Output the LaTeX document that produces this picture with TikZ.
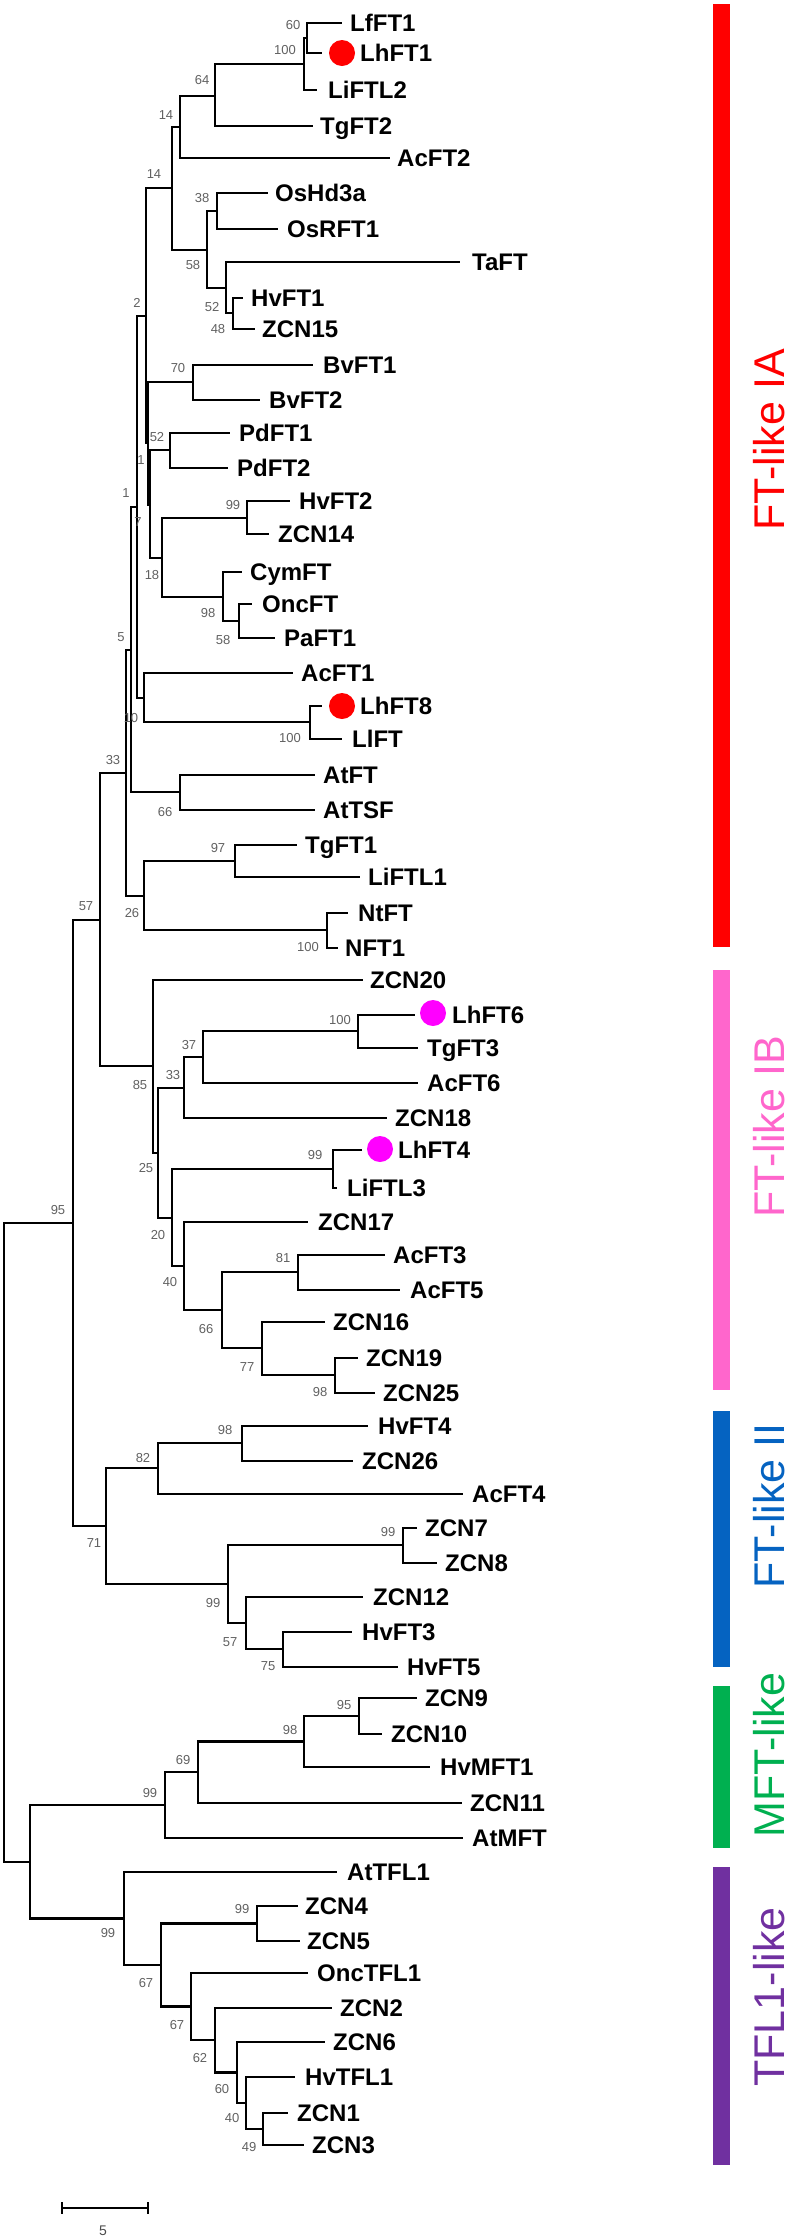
\documentclass[tikz,border=0pt]{standalone}
\usepackage{fontspec}
\setmainfont{Liberation Sans}
\definecolor{cIA}{HTML}{FF0000}
\definecolor{cIB}{HTML}{FF66CC}
\definecolor{cII}{HTML}{0563C1}
\definecolor{cMF}{HTML}{00B050}
\definecolor{cTF}{HTML}{7030A0}
\definecolor{cDotB}{HTML}{FF00FF}
\newcommand\leafnode[5]{\coordinate (#1) at (#2,#3);\node[lab] (t#1) at (#4,#3+8.5) {#5};}
\begin{document}
\begin{tikzpicture}[x=1pt,y=-1pt,
  br/.style={line width=2.8pt, line join=miter},
  lab/.style={anchor=base west, inner sep=0pt, font=\bfseries\fontsize{24}{24}\selectfont},
  bs/.style={inner sep=0pt, text=black!62, font=\fontsize{13}{13}\selectfont},
  clade/.style={rotate=90, inner sep=0pt, font=\fontsize{43}{43}\selectfont},
  dot/.style={circle, minimum size=26pt, inner sep=0pt, draw=none}]
\fill[white] (0,0) rectangle (792,2239);
\useasboundingbox (0,0) rectangle (792,2239);

% ---------- leaves ----------
\leafnode{LfFT1}{342}{23}{350}{LfFT1}
\leafnode{LhFT1}{322}{53}{360}{LhFT1}
\leafnode{LiFTL2}{317}{90}{328}{LiFTL2}
\leafnode{TgFT2}{313}{126}{320}{TgFT2}
\leafnode{AcFT2}{390}{158}{397}{AcFT2}
\leafnode{OsHd3a}{268}{193}{275}{OsHd3a}
\leafnode{OsRFT1}{278}{229}{287}{OsRFT1}
\leafnode{TaFT}{460}{262}{472}{TaFT}
\leafnode{HvFT1}{243}{298}{251}{HvFT1}
\leafnode{ZCN15}{255}{329}{262}{ZCN15}
\leafnode{BvFT1}{313}{365}{323}{BvFT1}
\leafnode{BvFT2}{260}{400}{269}{BvFT2}
\leafnode{PdFT1}{230}{433}{239}{PdFT1}
\leafnode{PdFT2}{228}{468}{237}{PdFT2}
\leafnode{HvFT2}{290}{501}{299}{HvFT2}
\leafnode{ZCN14}{269}{534}{278}{ZCN14}
\leafnode{CymFT}{242}{572}{250}{CymFT}
\leafnode{OncFT}{252}{604}{262}{OncFT}
\leafnode{PaFT1}{275}{638}{284}{PaFT1}
\leafnode{AcFT1}{293}{673}{301}{AcFT1}
\leafnode{LhFT8}{322}{706}{360}{LhFT8}
\leafnode{LlFT}{342}{739}{352}{LlFT}
\leafnode{AtFT}{315}{775}{323}{AtFT}
\leafnode{AtTSF}{315}{810}{323}{AtTSF}
\leafnode{TgFT1}{297}{845}{305}{TgFT1}
\leafnode{LiFTL1}{360}{877}{368}{LiFTL1}
\leafnode{NtFT}{348}{913}{358}{NtFT}
\leafnode{NFT1}{338}{948}{345}{NFT1}
\leafnode{ZCN20}{363}{980}{370}{ZCN20}
\leafnode{LhFT6}{415}{1015}{452}{LhFT6}
\leafnode{TgFT3}{418}{1048}{427}{TgFT3}
\leafnode{AcFT6}{418}{1083}{427}{AcFT6}
\leafnode{ZCN18}{387}{1118}{395}{ZCN18}
\leafnode{LhFT4}{362}{1150}{398}{LhFT4}
\leafnode{LiFTL3}{337}{1188}{347}{LiFTL3}
\leafnode{ZCN17}{308}{1222}{318}{ZCN17}
\leafnode{AcFT3}{385}{1255}{393}{AcFT3}
\leafnode{AcFT5}{400}{1290}{410}{AcFT5}
\leafnode{ZCN16}{325}{1322}{333}{ZCN16}
\leafnode{ZCN19}{358}{1358}{366}{ZCN19}
\leafnode{ZCN25}{375}{1393}{383}{ZCN25}
\leafnode{HvFT4}{368}{1426}{378}{HvFT4}
\leafnode{ZCN26}{353}{1461}{362}{ZCN26}
\leafnode{AcFT4}{463}{1494}{472}{AcFT4}
\leafnode{ZCN7}{417}{1528}{425}{ZCN7}
\leafnode{ZCN8}{437}{1563}{445}{ZCN8}
\leafnode{ZCN12}{363}{1597}{373}{ZCN12}
\leafnode{HvFT3}{352}{1632}{362}{HvFT3}
\leafnode{HvFT5}{398}{1667}{407}{HvFT5}
\leafnode{ZCN9}{417}{1698}{425}{ZCN9}
\leafnode{ZCN10}{382}{1734}{391}{ZCN10}
\leafnode{HvMFT1}{430}{1767}{440}{HvMFT1}
\leafnode{ZCN11}{462}{1803}{470}{ZCN11}
\leafnode{AtMFT}{463}{1838}{472}{AtMFT}
\leafnode{AtTFL1}{337}{1872}{347}{AtTFL1}
\leafnode{ZCN4}{298}{1906}{305}{ZCN4}
\leafnode{ZCN5}{300}{1941}{307}{ZCN5}
\leafnode{OncTFL1}{308}{1973}{317}{OncTFL1}
\leafnode{ZCN2}{332}{2008}{340}{ZCN2}
\leafnode{ZCN6}{325}{2042}{333}{ZCN6}
\leafnode{HvTFL1}{295}{2077}{305}{HvTFL1}
\leafnode{ZCN1}{288}{2113}{297}{ZCN1}
\leafnode{ZCN3}{304}{2145}{312}{ZCN3}

% ---------- internal nodes ----------
\coordinate (a60) at (307,38);
\coordinate (a100) at (304,64);
\coordinate (a64) at (215,96);
\coordinate (a14u) at (180,127);
\coordinate (a38) at (217,211);
\coordinate (a48) at (233,313);
\coordinate (a52) at (226,288);
\coordinate (a58) at (207,250);
\coordinate (a14l) at (172,188);
\coordinate (a70) at (193,382);
\coordinate (a52b) at (170,450);
\coordinate (a99) at (247,518);
\coordinate (a58b) at (239,621);
\coordinate (a98) at (223,597);
\coordinate (a18) at (162,558);
\coordinate (a7) at (150,505);
\coordinate (a1u) at (148,443);
\coordinate (a2) at (146,316);
\coordinate (a100b) at (310,722);
\coordinate (a10) at (144,698);
\coordinate (a1l) at (137,507);
\coordinate (a66) at (180,792);
\coordinate (a5) at (131,650);
\coordinate (a97) at (235,861);
\coordinate (a100c) at (327,930);
\coordinate (a26) at (144,896);
\coordinate (a33) at (126,773);
\coordinate (b100) at (358,1031);
\coordinate (b37) at (203,1057);
\coordinate (b33) at (184,1088);
\coordinate (b99) at (333,1169);
\coordinate (b81) at (298,1272);
\coordinate (b98) at (335,1375);
\coordinate (b77) at (262,1348);
\coordinate (b66) at (222,1310);
\coordinate (b40) at (184,1266);
\coordinate (b20) at (172,1218);
\coordinate (b25) at (158,1153);
\coordinate (b85) at (153,1066);
\coordinate (a57) at (100,920);
\coordinate (c98) at (242,1443);
\coordinate (c82) at (158,1468);
\coordinate (c99a) at (403,1545);
\coordinate (c75) at (283,1649);
\coordinate (c57) at (246,1623);
\coordinate (c99b) at (228,1584);
\coordinate (c71) at (106,1526);
\coordinate (r95) at (73,1223);
\coordinate (d95) at (359,1716);
\coordinate (d98) at (304,1741.5);
\coordinate (d69) at (198,1772);
\coordinate (d99) at (165,1805);
\coordinate (e49) at (263,2129);
\coordinate (e40) at (246,2103);
\coordinate (e60) at (237,2072.5);
\coordinate (e62) at (215,2040);
\coordinate (e67a) at (191,2006.5);
\coordinate (e99) at (257,1923.5);
\coordinate (e67b) at (161,1965);
\coordinate (e99b) at (124,1918.5);
\coordinate (f) at (30,1862);
\coordinate (root) at (4,1542.5);

% ---------- branches ----------
\foreach \p/\c in {a60/LfFT1, a60/LhFT1, a100/a60, a100/LiFTL2, a64/a100, a64/TgFT2, a14u/a64, a14u/AcFT2,
  a38/OsHd3a, a38/OsRFT1, a48/HvFT1, a48/ZCN15, a52/TaFT, a52/a48, a58/a38, a58/a52, a14l/a14u, a14l/a58,
  a70/BvFT1, a70/BvFT2, a52b/PdFT1, a52b/PdFT2, a99/HvFT2, a99/ZCN14, a58b/OncFT, a58b/PaFT1, a98/CymFT,
  a98/a58b, a18/a99, a18/a98, a7/a52b, a7/a18, a1u/a70, a1u/a7, a2/a14l, a2/a1u, a100b/LhFT8, a100b/LlFT,
  a10/AcFT1, a10/a100b, a1l/a2, a1l/a10, a66/AtFT, a66/AtTSF, a5/a1l, a5/a66, a97/TgFT1, a97/LiFTL1,
  a100c/NtFT, a100c/NFT1, a26/a97, a26/a100c, a33/a5, a33/a26,
  b100/LhFT6, b100/TgFT3, b37/b100, b37/AcFT6, b33/b37, b33/ZCN18, b99/LhFT4, b99/LiFTL3, b81/AcFT3,
  b81/AcFT5, b98/ZCN19, b98/ZCN25, b77/ZCN16, b77/b98, b66/b81, b66/b77, b40/ZCN17, b40/b66, b20/b99,
  b20/b40, b25/b33, b25/b20, b85/ZCN20, b85/b25, a57/a33, a57/b85,
  c98/HvFT4, c98/ZCN26, c82/c98, c82/AcFT4, c99a/ZCN7, c99a/ZCN8, c75/HvFT3, c75/HvFT5, c57/ZCN12,
  c57/c75, c99b/c99a, c99b/c57, c71/c82, c71/c99b, r95/a57, r95/c71,
  d95/ZCN9, d95/ZCN10, d98/d95, d98/HvMFT1, d69/d98, d69/ZCN11, d99/d69, d99/AtMFT,
  e49/ZCN1, e49/ZCN3, e40/HvTFL1, e40/e49, e60/ZCN6, e60/e40, e62/ZCN2, e62/e60, e67a/OncTFL1, e67a/e62,
  e99/ZCN4, e99/ZCN5, e67b/e99, e67b/e67a, e99b/AtTFL1, e99b/e67b, f/d99, f/e99b, root/r95, root/f}
  \draw[br] (\p) |- (\c);

% ---------- bootstrap values ----------
\foreach \t/\x/\y [count=\i] in {60/293/25, 100/285/50, 64/202/80, 14/166/115, 14/154/174, 38/202/198,
  58/193/265, 52/212/307, 48/218/329, 2/137/303, 70/178/368, 52/157/437, 1/141/460, 1/126/493,
  99/233/505, 7/138/522, 18/152/575, 98/208/613, 58/223/640, 5/121/637, 10/131/718, 100/290/738,
  33/113/760, 66/165/812, 97/218/848, 26/132/913, 100/308/947, 57/86/906, 100/340/1020, 37/189/1045,
  33/173/1075, 85/140/1085, 99/315/1155, 25/146/1168, 20/158/1235, 81/283/1258, 40/170/1282,
  66/206/1329, 77/247/1367, 98/320/1392, 95/58/1210, 98/225/1430, 82/143/1458, 99/388/1532,
  71/94/1543, 99/213/1603, 57/230/1642, 75/268/1666, 95/344/1705, 98/290/1730, 69/183/1760,
  99/150/1793, 99/242/1909, 67/146/1983, 99/108/1933, 67/177/2025, 62/200/2058, 60/222/2089,
  40/232/2118, 49/249/2147}
  \node[bs] (bs\i) at (\x,\y) {\t};

% ---------- highlighted genes ----------
\node[dot, fill=red] (dotLhFT1) at (342,53) {};
\node[dot, fill=red] (dotLhFT8) at (342,706) {};
\node[dot, fill=cDotB] (dotLhFT6) at (433,1013) {};
\node[dot, fill=cDotB] (dotLhFT4) at (380,1149) {};

% ---------- clade bars ----------
\fill[cIA] (713,4) rectangle (730,947);
\fill[cIB] (713,970) rectangle (730,1390);
\fill[cII] (713,1411) rectangle (730,1667);
\fill[cMF] (713,1686) rectangle (730,1848);
\fill[cTF] (713,1867) rectangle (730,2165);
\node[clade, text=cIA] (labIA) at (769,440) {FT-like IA};
\node[clade, text=cIB] (labIB) at (769,1127) {FT-like IB};
\node[clade, text=cII] (labII) at (769,1506) {FT-like II};
\node[clade, text=cMF] (labMF) at (769,1755) {MFT-like};
\node[clade, text=cTF] (labTF) at (769,1997) {TFL1-like};

% ---------- scale bar ----------
\coordinate (sbL) at (62,2208);
\coordinate (sbR) at (148,2208);
\draw[line width=2pt] (sbL) -- (sbR);
\draw[line width=2pt] (62,2202) -- (62,2214);
\draw[line width=2pt] (148,2202) -- (148,2214);
\node[bs, text=black!70, font=\fontsize{14}{14}\selectfont] (sbT) at (103,2231) {5};
\end{tikzpicture}
\end{document}
